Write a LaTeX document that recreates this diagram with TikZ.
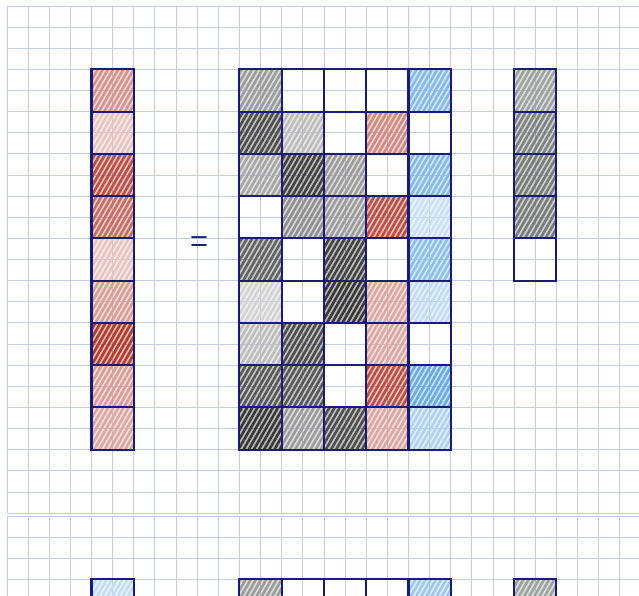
\documentclass[tikz,border=0pt]{standalone}
\usepackage{tikz}
\usetikzlibrary{patterns.meta}
\usepackage{xcolor}
\definecolor{GridBlue}{HTML}{C3CDE3}
\definecolor{InkNavy}{HTML}{1A1A78}
\definecolor{PencilR}{HTML}{B1392C}
\definecolor{PencilB}{HTML}{4C9BDB}
\definecolor{PencilK}{HTML}{1E1E1E}
\definecolor{PencilG}{HTML}{5A6260}

\tikzset{
  gridline/.style={GridBlue, line width=0.6pt},
  cellbox/.style={draw=InkNavy, line width=1.4pt, minimum size=1cm,
                  inner sep=0pt, outer sep=0pt},
  hatch/.code 2 args={\ifnum#2>0
      \tikzset{preaction={fill=Pencil#1!#2!white, fill opacity=0.35},
               pattern={Lines[angle=60, distance=3pt, line width=1.7pt]},
               pattern color=Pencil#1!#2!white}\fi},
}

\begin{document}
\begin{tikzpicture}[x=0.5cm, y=-0.5cm]
  \path[use as bounding box, fill=white] (-0.332,-0.284) rectangle (29.91,27.88);
  \clip (-0.332,-0.284) rectangle (29.91,27.88);

  % squared paper, two sheets
  \foreach \k in {0,...,29} \draw[gridline] (\k,0) -- (\k,24);
  \foreach \k in {0,...,24} \draw[gridline] (0,\k) -- (29.91,\k);
  \foreach \k in {0,...,29} \draw[gridline] (\k,24.14) -- (\k,28);
  \foreach \k in {0,...,3} \draw[gridline] (0,24.14+\k) -- (29.91,24.14+\k);

  % left vector
  \foreach \lv [count=\i] in {55,30,90,75,30,50,100,50,45}
    \node[cellbox, hatch={R}{\lv}] (v-\i) at (5,2*\i+2) {};

  \node[text=InkNavy, font=\LARGE\boldmath, xscale=0.8, yscale=1.4] (eq) at (9.09,11.22) {$=$};

  % matrix
  \foreach \row [count=\i] in {
      {K/45,N/0,N/0,N/0,B/70},
      {K/80,K/30,N/0,R/60,N/0},
      {K/40,K/85,K/45,N/0,B/70},
      {N/0,K/50,K/45,R/90,B/30},
      {K/70,N/0,K/85,N/0,B/65},
      {K/20,N/0,K/90,R/45,B/35},
      {K/30,K/80,N/0,R/45,N/0},
      {K/75,K/75,N/0,R/90,B/85},
      {K/90,K/45,K/80,R/45,B/45}}
    \foreach \c/\lv [count=\j] in \row
      \node[cellbox, hatch={\c}{\lv}] (m-\i-\j) at (2*\j+10,2*\i+2) {};

  % right vector
  \foreach \lv [count=\i] in {60,80,85,85,0}
    \node[cellbox, hatch={G}{\lv}] (w-\i) at (25,2*\i+2) {};

  % next sheet
  \node[cellbox, hatch={B}{35}] (v2-1) at (5,28.14) {};
  \foreach \c/\lv [count=\j] in {K/45,N/0,N/0,N/0,B/55}
    \node[cellbox, hatch={\c}{\lv}] (m2-1-\j) at (2*\j+10,28.14) {};
  \node[cellbox, hatch={G}{60}] (w2-1) at (25,28.14) {};
\end{tikzpicture}
\end{document}
